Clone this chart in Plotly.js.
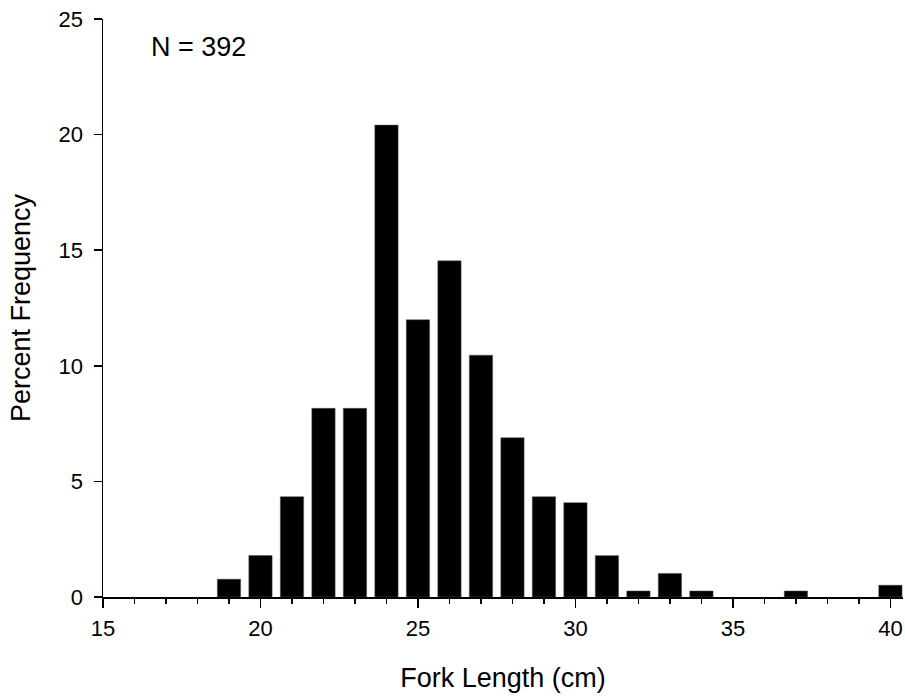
<!DOCTYPE html>
<html>
<head>
<meta charset="utf-8">
<script src="https://cdn.plot.ly/plotly-3.0.1.min.js"></script>
<style>
  html, body { margin: 0; padding: 0; background: #fff; }
  #chart { width: 905px; height: 697px; }
</style>
</head>
<body>
<div id="chart"></div>
<script>
// Fork length classes (cm) and percent frequency of fish in each class
const forkLength = [19, 20, 21, 22, 23, 24, 25, 26, 27, 28, 29, 30, 31, 32, 33, 34, 37, 40];
const percentFrequency = [0.77, 1.79, 4.34, 8.16, 8.16, 20.41, 11.99, 14.54, 10.46, 6.89, 4.34, 4.08, 1.79, 0.26, 1.02, 0.26, 0.26, 0.51];
const sampleLabel = 'N = 392';

const fontFamily = '"Liberation Sans", Arial, sans-serif';

const trace = {
  type: 'bar',
  x: forkLength,
  y: percentFrequency,
  width: 0.74,
  marker: { color: '#000000', line: { color: '#555555', width: 0.5 } },
  hoverinfo: 'x+y'
};

const layout = {
  width: 905,
  height: 697,
  margin: { l: 102.7, r: 2, t: 18.5, b: 99.7, pad: 0 },
  paper_bgcolor: '#ffffff',
  plot_bgcolor: '#ffffff',
  font: { family: fontFamily, color: '#000000', size: 22 },
  showlegend: false,
  bargap: 0,
  xaxis: {
    range: [15, 40.4],
    tickmode: 'linear',
    tick0: 15,
    dtick: 5,
    ticks: 'outside',
    ticklen: 9,
    tickwidth: 1.5,
    tickcolor: '#000000',
    ticklabelstandoff: 2,
    showline: true,
    linecolor: '#000000',
    linewidth: 1.5,
    showgrid: false,
    zeroline: false,
    tickfont: { family: fontFamily, size: 22, color: '#000000' },
    minor: { dtick: 1, tick0: 15, ticks: 'outside', ticklen: 5, tickwidth: 1.5, tickcolor: '#000000', showgrid: false },
    title: { text: 'Fork Length (cm)', font: { family: fontFamily, size: 27, color: '#000000' }, standoff: 28 },
    automargin: false
  },
  yaxis: {
    range: [0, 25],
    tickmode: 'linear',
    tick0: 0,
    dtick: 5,
    ticks: 'outside',
    ticklen: 8,
    tickwidth: 1.5,
    tickcolor: '#000000',
    ticklabelstandoff: 6,
    showline: true,
    linecolor: '#000000',
    linewidth: 1.5,
    showgrid: false,
    zeroline: false,
    tickfont: { family: fontFamily, size: 22, color: '#000000' },
    title: { text: 'Percent Frequency', font: { family: fontFamily, size: 27, color: '#000000' }, standoff: 20 },
    automargin: false
  },
  annotations: [{
    text: sampleLabel,
    xref: 'x',
    yref: 'y',
    x: 16.45,
    y: 23.8,
    xanchor: 'left',
    yanchor: 'middle',
    showarrow: false,
    font: { family: fontFamily, size: 27, color: '#000000' }
  }]
};

Plotly.newPlot('chart', [trace], layout, { displayModeBar: false, staticPlot: true });
</script>
</body>
</html>
